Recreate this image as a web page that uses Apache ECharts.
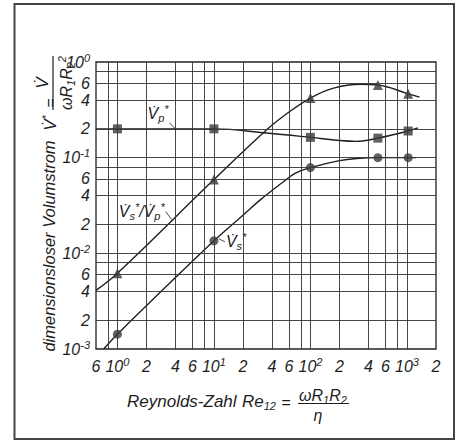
<!DOCTYPE html>
<html><head><meta charset="utf-8">
<script src="https://cdn.jsdelivr.net/npm/echarts@6/dist/echarts.min.js"></script>
<style>html,body{margin:0;padding:0;background:#fff}#c{width:462px;height:441px}</style>
</head><body><div id="c"></div>
<script>
// ---- data ----
const reVals = [1, 10, 100, 500, 1030];
const vpPoints = [0.2, 0.2, 0.163, 0.16, 0.19];          // squares  V̇p*
const ratioPoints = [0.0062, 0.059, 0.42, 0.575, 0.465]; // triangles V̇s*/V̇p*
const vsPoints = [0.00143, 0.0135, 0.0787, 0.1, 0.1];    // circles  V̇s*

// drawn fitted curves
const vpCurveX = [0.6, 1, 10, 35, 100, 200, 300, 500, 1030, 1300];
const vpCurveY = [0.2, 0.2, 0.2, 0.181, 0.163, 0.151, 0.148, 0.16, 0.19, 0.205];
const ratioCurveX = [0.6, 1, 10, 35, 60, 100, 170, 330, 500, 1030, 1350];
const ratioCurveY = [0.0041, 0.0062, 0.059, 0.195, 0.3, 0.42, 0.53, 0.585, 0.575, 0.465, 0.43];
const vsCurveX = [0.72, 1, 10, 20, 30, 50, 70, 100, 200, 300, 500, 1030, 1250];
const vsCurveY = [0.001, 0.00143, 0.0135, 0.025, 0.036, 0.054, 0.069, 0.0787, 0.093, 0.098, 0.1, 0.1, 0.1];

// grid lines and tick labels
const xGridVals = [0.8, 1, 2, 4, 6, 8, 10, 20, 40, 60, 80, 100, 200, 400, 600, 800, 1000];
const xTickVals = [0.6, 1, 2, 4, 6, 10, 20, 40, 60, 100, 200, 400, 600, 1000, 2000];
const xTickLabels = ['6', '10{s|0}', '2', '4', '6', '10{s|1}', '2', '4', '6', '10{s|2}', '2', '4', '6', '10{s|3}', '2'];
const yGridVals = [0.002, 0.004, 0.006, 0.008, 0.01, 0.02, 0.04, 0.06, 0.08, 0.1, 0.2, 0.4, 0.6, 0.8];
const yTickVals = [0.001, 0.002, 0.004, 0.006, 0.01, 0.02, 0.04, 0.06, 0.1, 0.2, 0.4, 0.6, 1];
const yTickLabels = ['10{s|-3}', '2', '4', '6', '10{s|-2}', '2', '4', '6', '10{s|-1}', '2', '4', '6', '10{s|0}'];

// ---- chart ----
const FONT = 'Liberation Sans';
const ink = '#1e1e1e';
const gridColor = '#333';
const richSS = {
  s: {fontSize: 11, lineHeight: 12, verticalAlign: 'top', fontStyle: 'italic', fontFamily: FONT, color: ink},
  sb: {fontSize: 11, lineHeight: 12, verticalAlign: 'bottom', fontStyle: 'italic', fontFamily: FONT, color: ink}
};
const pairs = (xs, ys) => xs.map((x, i) => [x, ys[i]]);

const chart = echarts.init(document.getElementById('c'), null, {renderer: 'svg', width: 462, height: 441});

const gridLines = [
  ...xGridVals.map(v => ({xAxis: v})),
  ...yGridVals.map(v => ({yAxis: v}))
];
const hidden = {color: 'rgba(0,0,0,0)', width: 0, opacity: 1};
const tickLabelLines = [
  ...xTickVals.map((v, i) => ({xAxis: v, lineStyle: hidden,
    label: {show: true, position: 'start', distance: 7, opacity: 1, color: ink, formatter: () => xTickLabels[i]}})),
  ...yTickVals.map((v, i) => ({yAxis: v, lineStyle: hidden,
    label: {show: true, position: 'start', distance: 6, opacity: 1, color: ink, formatter: () => yTickLabels[i]}}))
];

const curveStyle = {color: ink, width: 1.4};
const option = {
  backgroundColor: '#fff',
  animation: false,
  grid: {left: 96, top: 62, width: 340, height: 287, show: true, borderColor: '#222', borderWidth: 1.3, backgroundColor: 'transparent'},
  xAxis: {type: 'log', logBase: 10, min: 0.6, max: 2000,
    axisLine: {show: false}, axisTick: {show: false}, axisLabel: {show: false}, splitLine: {show: false}},
  yAxis: {type: 'log', logBase: 10, min: 0.001, max: 1,
    axisLine: {show: false}, axisTick: {show: false}, axisLabel: {show: false}, splitLine: {show: false}},
  series: [
    {type: 'line', name: 'Vp curve', data: pairs(vpCurveX, vpCurveY), smooth: 0.4, showSymbol: false,
      lineStyle: curveStyle, z: 3, silent: true,
      markLine: {silent: true, symbol: ['none', 'none'], animation: false, precision: 10,
        lineStyle: {color: gridColor, width: 0.9, type: 'solid', opacity: 1},
        label: {show: false, fontSize: 16, lineHeight: 20, fontStyle: 'italic', fontFamily: FONT, color: ink, rich: richSS},
        emphasis: {disabled: true},
        data: gridLines.concat(tickLabelLines)}},
    {type: 'line', name: 'ratio curve', data: pairs(ratioCurveX, ratioCurveY), smooth: 0.4, showSymbol: false,
      lineStyle: curveStyle, z: 3, silent: true},
    {type: 'line', name: 'Vs curve', data: pairs(vsCurveX, vsCurveY), smooth: 0.4, showSymbol: false,
      lineStyle: curveStyle, z: 3, silent: true},
    {type: 'scatter', name: 'Vp*', data: pairs(reVals, vpPoints), symbol: 'rect', symbolSize: 9,
      itemStyle: {color: '#3a3a3a'}, z: 5},
    {type: 'scatter', name: 'Vs*/Vp*', data: pairs(reVals, ratioPoints), symbol: 'triangle', symbolSize: 10,
      itemStyle: {color: '#3a3a3a'}, z: 5},
    {type: 'scatter', name: 'Vs*', data: pairs(reVals, vsPoints), symbol: 'circle', symbolSize: 9,
      itemStyle: {color: '#3a3a3a'}, z: 5}
  ]
};
chart.setOption(option);

// ---- annotations / titles ----
const P = (x, y) => chart.convertToPixel({gridIndex: 0}, [x, y]);
const txt = (x, y, text, extra) => Object.assign({type: 'text', x: x, y: y, silent: true,
  style: Object.assign({text: text, fontSize: 16, lineHeight: 20, fontStyle: 'italic', fontFamily: FONT,
    fill: ink, align: 'center', verticalAlign: 'middle', rich: richSS}, (extra && extra.style) || {})},
  extra && extra.rotation ? {rotation: extra.rotation} : {});
const line = (x1, y1, x2, y2, w) => ({type: 'line', silent: true, shape: {x1, y1, x2, y2},
  style: {stroke: ink, lineWidth: w || 1}});

const aVp = P(4, 0.2);
const aRatio = P(3.65, 0.0225);
const aVs = P(vsCurveX[2], vsCurveY[2]);
const R = Math.PI / 2;

const graphic = [
  {type: 'rect', silent: true, shape: {x: 14.5, y: 4, width: 439.5, height: 435},
    style: {fill: 'none', stroke: '#444', lineWidth: 2}},
  // y-axis title (rotated)
  txt(49, 246, 'dimensionsloser Volumstrom', {rotation: R, style: {fontSize: 16.5}}),
  txt(50, 123, 'V\u0307{s|*}', {rotation: R, style: {fontSize: 17}}),
  txt(50, 103, '=', {rotation: R}),
  txt(42, 83, 'V\u0307', {rotation: R, style: {fontSize: 17}}),
  line(53, 56, 53, 110, 1.2),
  txt(66, 83, '\u03c9R{sb|1}R{sb|2}{s|2}', {rotation: R}),
  // x-axis title
  txt(127, 401, 'Reynolds-Zahl', {style: {align: 'left', fontSize: 17}}),
  txt(242, 401, 'Re{sb|12}', {style: {align: 'left', fontSize: 17}}),
  txt(286, 402, '='),
  txt(323, 395, '\u03c9R{sb|1}R{sb|2}'),
  line(298, 403.5, 349, 403.5, 1.1),
  txt(318, 415, '\u03b7'),
  // curve annotations
  line(aVp[0], aVp[1], aVp[0] - 6, aVp[1] - 6, 0.8),
  txt(aVp[0] - 7, aVp[1] - 15, 'V\u0307{sb|p}{s|*}', {style: {align: 'right'}}),
  line(aRatio[0], aRatio[1], aRatio[0] - 6, aRatio[1] - 8, 0.8),
  txt(aRatio[0] - 7, aRatio[1] - 8, 'V\u0307{sb|s}{s|*}/V\u0307{sb|p}{s|*}', {style: {align: 'right'}}),
  line(aVs[0] + 5, aVs[1] - 2, aVs[0] + 11, aVs[1] + 1, 0.8),
  txt(aVs[0] + 12, aVs[1] + 1, 'V\u0307{sb|s}{s|*}', {style: {align: 'left'}})
];
chart.setOption({graphic: graphic});
</script>
</body></html>
